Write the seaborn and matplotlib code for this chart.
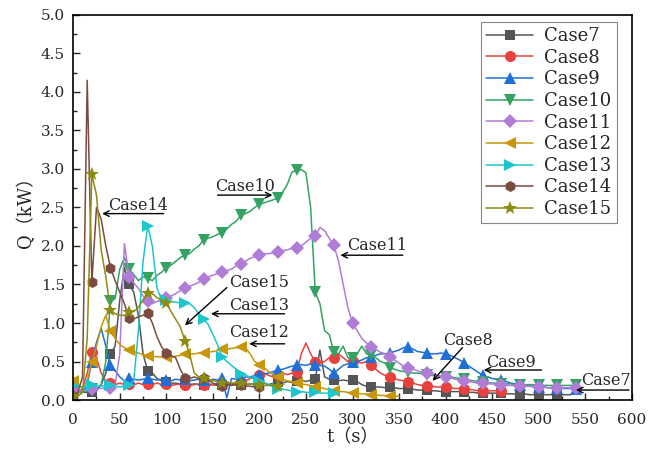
import matplotlib
matplotlib.use('Agg')
import matplotlib.pyplot as plt
import numpy as np
import seaborn as sns
from matplotlib.ticker import MultipleLocator, FormatStrFormatter

# time grid (s), 5 s sampling
t = np.arange(0, 550, 5)

case7 = [0.12, 0.10, 0.10, 0.10, 0.11, 0.12, 0.20, 0.35, 0.60, 0.70, 1.30, 1.72, 1.50, 1.40, 1.10, 0.60,
         0.38, 0.35, 0.28, 0.25, 0.23, 0.22, 0.22, 0.21, 0.22, 0.20, 0.21, 0.20, 0.20, 0.21, 0.20, 0.19,
         0.20, 0.20, 0.21, 0.20, 0.20, 0.20, 0.21, 0.20, 0.21, 0.22, 0.20, 0.22, 0.23, 0.22, 0.24, 0.23,
         0.25, 0.26, 0.24, 0.26, 0.27, 0.65, 0.30, 0.27, 0.26, 0.25, 0.26, 0.25, 0.26, 0.24, 0.20, 0.18,
         0.17, 0.17, 0.17, 0.16, 0.17, 0.16, 0.15, 0.15, 0.14, 0.14, 0.13, 0.13, 0.13, 0.12, 0.12, 0.11,
         0.11, 0.11, 0.11, 0.11, 0.11, 0.10, 0.10, 0.09, 0.09, 0.09, 0.09, 0.09, 0.09, 0.08, 0.08, 0.08,
         0.08, 0.08, 0.07, 0.07, 0.07, 0.07, 0.07, 0.07, 0.07, 0.07, 0.07, 0.07]
case8 = [0.10, 0.10, 0.15, 0.35, 0.63, 0.55, 0.35, 0.25, 0.22, 0.20, 0.22, 0.20, 0.21, 0.20, 0.22, 0.20,
         0.21, 0.20, 0.22, 0.20, 0.21, 0.19, 0.20, 0.21, 0.20, 0.19, 0.20, 0.21, 0.20, 0.19, 0.20, 0.21,
         0.20, 0.22, 0.21, 0.22, 0.23, 0.25, 0.28, 0.30, 0.33, 0.35, 0.32, 0.30, 0.32, 0.35, 0.33, 0.35,
         0.36, 0.60, 0.74, 0.60, 0.50, 0.48, 0.50, 0.55, 0.54, 0.60, 0.55, 0.50, 0.51, 0.50, 0.48, 0.50,
         0.45, 0.40, 0.35, 0.32, 0.30, 0.28, 0.26, 0.25, 0.24, 0.22, 0.20, 0.19, 0.18, 0.18, 0.17, 0.17,
         0.17, 0.16, 0.15, 0.15, 0.14, 0.14, 0.13, 0.12, 0.12, 0.12, 0.12, 0.12, 0.12]
case9 = [0.15, 0.12, 0.10, 0.20, 0.50, 0.75, 0.93, 0.70, 0.45, 0.38, 0.30, 0.25, 0.28, 0.27, 0.26, 0.27,
         0.28, 0.27, 0.26, 0.27, 0.26, 0.25, 0.27, 0.26, 0.27, 0.25, 0.26, 0.27, 0.26, 0.25, 0.27, 0.26,
         0.28, 0.03, 0.28, 0.27, 0.28, 0.30, 0.30, 0.32, 0.33, 0.34, 0.35, 0.37, 0.39, 0.40, 0.42, 0.44,
         0.45, 0.46, 0.45, 0.47, 0.46, 0.45, 0.44, 0.40, 0.35, 0.40, 0.45, 0.47, 0.49, 0.50, 0.52, 0.55,
         0.56, 0.58, 0.60, 0.60, 0.61, 0.63, 0.65, 0.68, 0.69, 0.66, 0.63, 0.62, 0.61, 0.60, 0.60, 0.61,
         0.60, 0.58, 0.55, 0.52, 0.48, 0.44, 0.40, 0.36, 0.32, 0.30, 0.28, 0.27, 0.26, 0.24, 0.22, 0.21,
         0.20, 0.19, 0.18, 0.18, 0.17, 0.17, 0.16, 0.16, 0.16, 0.15, 0.15, 0.15, 0.15]
case10 = [0.12, 0.10, 0.10, 0.12, 0.15, 0.15, 0.20, 0.50, 1.28, 1.32, 1.70, 1.85, 1.70, 1.63, 1.55, 1.60,
          1.58, 1.55, 1.62, 1.66, 1.72, 1.75, 1.80, 1.85, 1.88, 1.90, 1.96, 2.00, 2.08, 2.10, 2.12, 2.15,
          2.17, 2.22, 2.28, 2.32, 2.40, 2.42, 2.45, 2.50, 2.54, 2.56, 2.58, 2.60, 2.62, 2.70, 2.80, 2.96,
          2.98, 2.99, 2.95, 2.50, 1.40, 1.25, 0.90, 0.85, 0.62, 0.60, 0.70, 0.55, 0.54, 0.60, 0.70, 0.60,
          0.58, 0.55, 0.50, 0.48, 0.42, 0.40, 0.38, 0.37, 0.36, 0.35, 0.35, 0.34, 0.33, 0.32, 0.32, 0.31,
          0.30, 0.30, 0.29, 0.28, 0.27, 0.26, 0.25, 0.24, 0.23, 0.23, 0.22, 0.22, 0.21, 0.21, 0.21, 0.20,
          0.20, 0.20, 0.20, 0.20, 0.19, 0.19, 0.19, 0.19, 0.19, 0.19, 0.19, 0.19, 0.19]
case11 = [0.12, 0.12, 0.12, 0.13, 0.15, 0.15, 0.15, 0.16, 0.16, 0.20, 0.60, 2.03, 1.60, 1.52, 1.45, 1.35,
          1.28, 1.25, 1.28, 1.30, 1.33, 1.35, 1.38, 1.42, 1.46, 1.48, 1.50, 1.53, 1.57, 1.60, 1.62, 1.64,
          1.66, 1.68, 1.70, 1.74, 1.77, 1.80, 1.84, 1.86, 1.88, 1.90, 1.90, 1.91, 1.92, 1.94, 1.95, 1.97,
          1.97, 2.00, 2.05, 2.10, 2.13, 2.24, 2.20, 2.10, 2.01, 1.80, 1.50, 1.20, 1.00, 0.90, 0.80, 0.74,
          0.69, 0.66, 0.62, 0.60, 0.56, 0.52, 0.48, 0.44, 0.41, 0.40, 0.38, 0.36, 0.35, 0.34, 0.32, 0.31,
          0.30, 0.29, 0.27, 0.26, 0.25, 0.24, 0.23, 0.22, 0.22, 0.21, 0.21, 0.20, 0.20, 0.19, 0.19, 0.19,
          0.18, 0.18, 0.18, 0.17, 0.17, 0.17, 0.16, 0.16, 0.16, 0.16, 0.16, 0.16, 0.16]
case12 = [0.25, 0.20, 0.15, 0.25, 0.50, 0.70, 0.95, 1.10, 0.89, 0.80, 0.72, 0.68, 0.65, 0.63, 0.61, 0.59,
          0.57, 0.57, 0.56, 0.56, 0.56, 0.55, 0.57, 0.58, 0.60, 0.60, 0.60, 0.61, 0.61, 0.62, 0.63, 0.64,
          0.66, 0.66, 0.67, 0.68, 0.69, 0.68, 0.60, 0.50, 0.46, 0.42, 0.37, 0.33, 0.30, 0.27, 0.25, 0.24,
          0.22, 0.21, 0.20, 0.19, 0.17, 0.16, 0.15, 0.13, 0.12, 0.11, 0.11, 0.10, 0.09, 0.09, 0.08, 0.08,
          0.07, 0.07, 0.06, 0.06, 0.05, 0.05, 0.05]
case13 = [0.20, 0.18, 0.17, 0.18, 0.19, 0.18, 0.18, 0.19, 0.19, 0.18, 0.17, 0.18, 0.20, 0.25, 0.90, 1.80,
          2.26, 2.00, 1.45, 1.30, 1.30, 1.28, 1.27, 1.26, 1.26, 1.25, 1.20, 1.12, 1.05, 0.98, 0.85, 0.72,
          0.56, 0.50, 0.45, 0.40, 0.34, 0.32, 0.30, 0.27, 0.25, 0.23, 0.20, 0.18, 0.15, 0.14, 0.13, 0.12,
          0.11, 0.11, 0.10, 0.10, 0.10, 0.09, 0.09, 0.09, 0.09, 0.08]
case14 = [0.05, 0.10, 0.30, 4.15, 1.53, 2.50, 2.35, 2.00, 1.72, 1.55, 1.40, 1.25, 1.06, 1.05, 1.08, 1.10,
          1.13, 1.00, 0.82, 0.69, 0.61, 0.58, 0.55, 0.40, 0.29, 0.28, 0.30, 0.28, 0.29, 0.26, 0.22, 0.20,
          0.18, 0.20, 0.19, 0.20, 0.19, 0.18, 0.18, 0.17, 0.17]
case15 = [0.05, 0.05, 0.10, 0.80, 2.93, 2.66, 1.95, 1.60, 1.17, 1.12, 1.10, 1.10, 1.14, 1.15, 1.20, 1.30,
          1.39, 1.38, 1.33, 1.30, 1.26, 1.15, 1.05, 0.95, 0.77, 0.60, 0.35, 0.30, 0.29, 0.27, 0.25, 0.24,
          0.22, 0.23, 0.22, 0.22, 0.22, 0.21, 0.21, 0.20, 0.20, 0.19, 0.19, 0.18, 0.18]

names = ['Case7', 'Case8', 'Case9', 'Case10', 'Case11', 'Case12', 'Case13', 'Case14', 'Case15']
series = [case7, case8, case9, case10, case11, case12, case13, case14, case15]
colors = ['#555555', '#e8413e', '#1f6fd6', '#33a262', '#b07cd8', '#c8960a', '#1dc6cc', '#7b4a40', '#8c8c12']
markers = ['s', 'o', '^', 'v', 'D', '<', '>', 'h', '*']
msizes = [7, 8, 8, 8, 7, 8, 8, 8, 10]

# annotation: label, text pos, arrow tail, arrow head
notes = [
    ('Case14', (38, 2.52), (97, 2.42), (31, 2.42)),
    ('Case10', (152, 2.77), (155, 2.66), (214, 2.66)),
    ('Case11', (294, 2.0), (354, 1.88), (287, 1.88)),
    ('Case15', (167, 1.52), (165, 1.46), (120, 0.97)),
    ('Case13', (167, 1.23), (227, 1.12), (148, 1.12)),
    ('Case12', (167, 0.88), (227, 0.73), (189, 0.73)),
    ('Case8', (397, 0.77), (418, 0.68), (386, 0.25)),
    ('Case9', (443, 0.49), (503, 0.39), (441, 0.39)),
    ('Case7', (546, 0.25), (597, 0.13), (540, 0.13)),
]

sns.set_style('ticks')
plt.rcParams['font.family'] = ['DejaVu Serif', 'Noto Sans CJK SC']
plt.rcParams['xtick.direction'] = 'in'
plt.rcParams['ytick.direction'] = 'in'

fig = plt.figure(figsize=(6.48, 4.49), dpi=100)
ax = fig.add_axes([0.113, 0.109, 0.862, 0.858])

for name, q, c, m, ms in zip(names, series, colors, markers, msizes):
    sns.lineplot(x=t[:len(q)], y=q, ax=ax, color=c, marker=m, markersize=ms,
                 markeredgewidth=0, markevery=4, linewidth=1.1, label=name,
                 estimator=None, sort=False)

for label, tpos, tail, head in notes:
    ax.text(tpos[0], tpos[1], label, fontsize=11.5, va='center', ha='left')
    ax.annotate('', xy=head, xytext=tail,
                arrowprops=dict(arrowstyle='->', color='black', lw=1, shrinkA=0, shrinkB=0))

ax.set_xlim(0, 600)
ax.set_ylim(0, 5.0)
ax.xaxis.set_major_locator(MultipleLocator(50))
ax.xaxis.set_minor_locator(MultipleLocator(25))
ax.yaxis.set_major_locator(MultipleLocator(0.5))
ax.yaxis.set_minor_locator(MultipleLocator(0.25))
ax.yaxis.set_major_formatter(FormatStrFormatter('%.1f'))
ax.tick_params(which='major', length=5, width=1, labelsize=11, pad=6, top=False, right=False)
ax.tick_params(axis='x', which='major', pad=9)
ax.tick_params(which='minor', length=3, width=1, top=False, right=False)
for sp in ax.spines.values():
    sp.set_linewidth(1.2)
    sp.set_color('black')

ax.set_xlabel('t（s）', fontsize=13, labelpad=1)
ax.set_ylabel('Q（kW）', fontsize=13, labelpad=4)

leg = ax.legend(loc='upper right', bbox_to_anchor=(0.973, 0.982), borderaxespad=0, fontsize=13,
                handlelength=2.6, labelspacing=0.2, borderpad=0.3, handletextpad=0.6,
                fancybox=False, framealpha=1, edgecolor='#888888')
leg.get_frame().set_linewidth(0.8)

fig.savefig('out.png', dpi=100)
